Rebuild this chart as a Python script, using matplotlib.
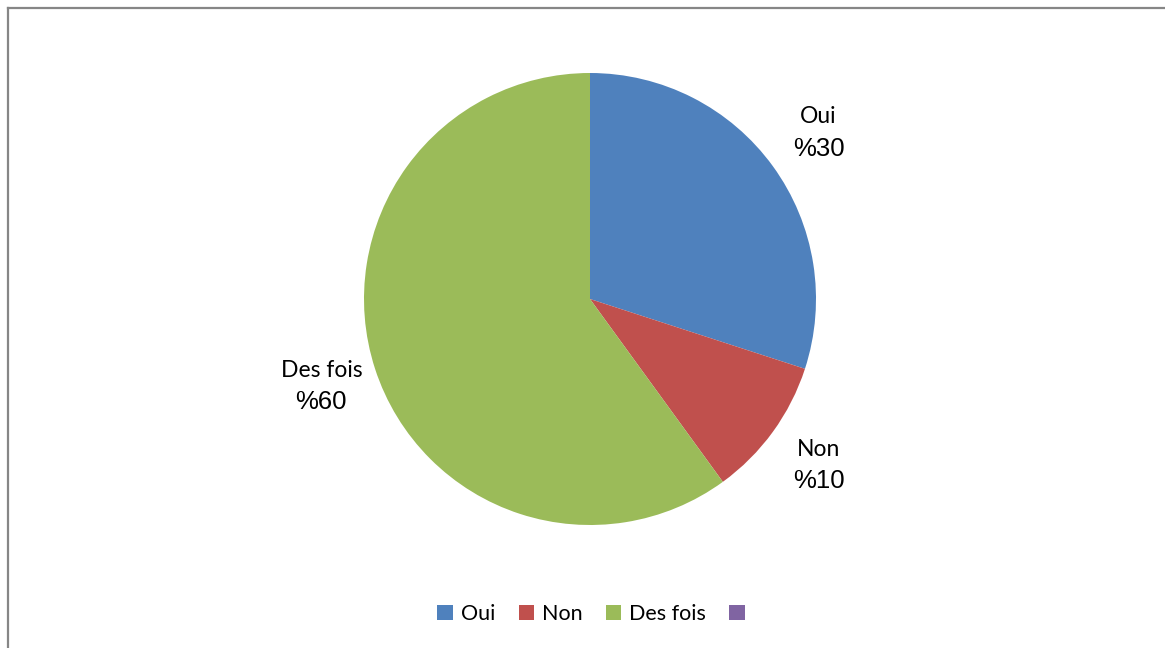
import numpy as np
import matplotlib.pyplot as plt
from matplotlib.patches import Patch
from matplotlib.lines import Line2D

categories = ["Oui", "Non", "Des fois"]
values = [30, 10, 60]
colors = ["#4F81BD", "#C0504D", "#9BBB59"]
legend_names = ["Oui", "Non", "Des fois", ""]
legend_colors = ["#4F81BD", "#C0504D", "#9BBB59", "#8064A2"]

W, H = 1165, 648
fig = plt.figure(figsize=(W / 100, H / 100), dpi=100)

# pie axes: centre (590, 299), radius 226 px
cx, cy, r = 590, 299, 226
ax = fig.add_axes([(cx - r) / W, 1 - (cy + r) / H, 2 * r / W, 2 * r / H])
wedges, _ = ax.pie(values, colors=colors, startangle=90, counterclock=False,
                   wedgeprops=dict(linewidth=0))
ax.set_xlim(-1, 1)
ax.set_ylim(-1, 1)
ax.axis("off")

# two-line labels: category name over the percentage
for w, c, v in zip(wedges, categories, values):
    mid = np.deg2rad((w.theta1 + w.theta2) / 2)
    d = 1.25
    x, y = d * np.cos(mid), d * np.sin(mid)
    ax.annotate(c, (x, y), xytext=(0, 11.5), textcoords="offset points",
                ha="center", va="center", family="Lato", fontsize=16.5,
                annotation_clip=False)
    ax.annotate(f"%{v}", (x, y), xytext=(0, -11.5), textcoords="offset points",
                ha="center", va="center", family="Liberation Sans", fontsize=18.5,
                annotation_clip=False)

# frame: left and top edges only
fig.add_artist(Line2D([7.5 / W, 7.5 / W], [0, 1 - 8 / H], color="#868686", lw=1.6))
fig.add_artist(Line2D([7.5 / W, 1], [1 - 8 / H, 1 - 8 / H], color="#868686", lw=1.6))

handles = [Patch(facecolor=c, edgecolor="none") for c in legend_colors]
fig.legend(handles, legend_names, loc="center", bbox_to_anchor=(595 / W, 1 - 614 / H),
           ncol=4, frameon=False, handlelength=0.72, handleheight=0.72,
           handletextpad=0.35, columnspacing=1.1,
           prop=dict(family="Lato", size=15.5))

fig.savefig("out.png", dpi=100)
